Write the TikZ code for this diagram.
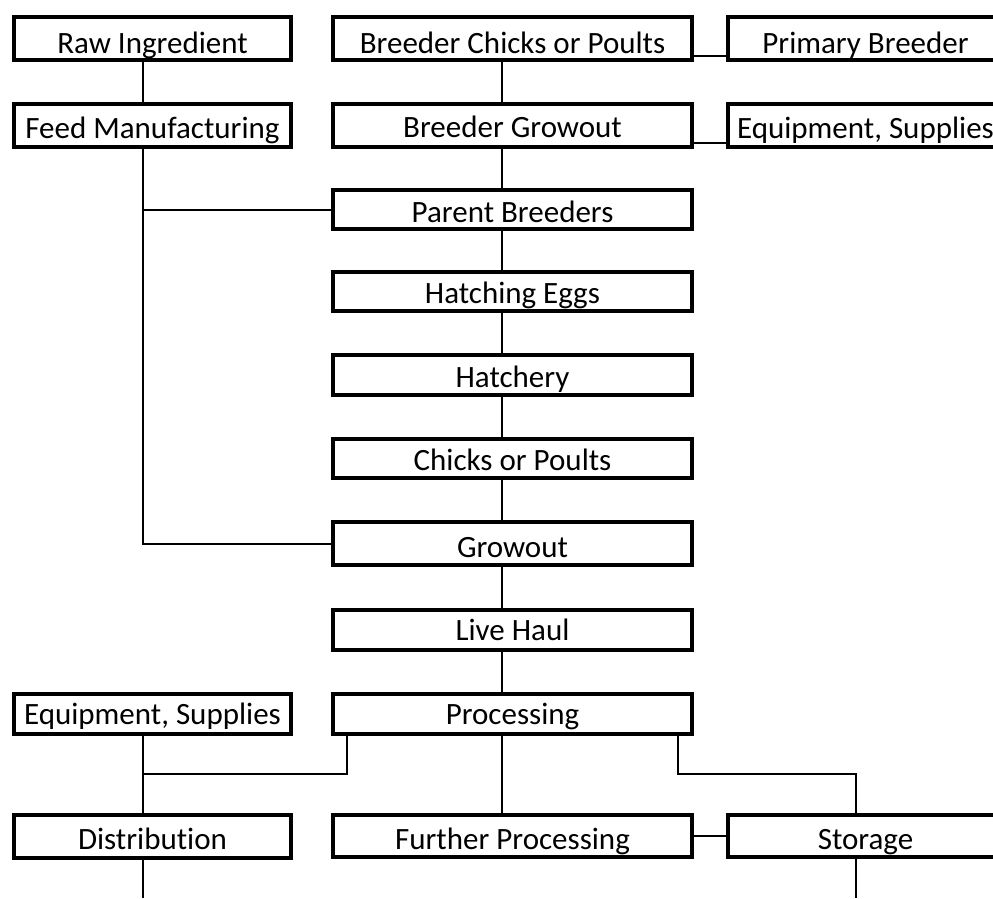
\documentclass[tikz,border=0pt]{standalone}
\usepackage{fontspec}
\setmainfont{Carlito}[Ligatures=NoCommon]
\begin{document}
\begin{tikzpicture}[x=1pt,y=-1pt,
  box/.style={draw, line width=3.5pt, rectangle, inner sep=0pt, outer sep=0pt,
    font=\fontsize{31}{36}\selectfont, text depth=0pt},
  lcol/.style={box, minimum width=277pt},
  mcol/.style={box, minimum width=359pt},
  rcol/.style={box, minimum width=275pt},
  conn/.style={line width=2pt}]
\useasboundingbox (0,0) rectangle (993,898);
\clip (0,0) rectangle (993,898);
% helper coordinates
\coordinate (L) at (143,0);
\coordinate (M) at (502,0);
\coordinate (PL) at (347,0);
\coordinate (PR) at (678,0);
\coordinate (SR) at (856,0);
\coordinate (J) at (0,774);
\coordinate (C1) at (0,56);
\coordinate (C2) at (0,143);
\coordinate (B) at (0,898);
% boxes
\node[lcol, minimum height=43pt, text height=29pt] (raw) at (152.5,38.5) {Raw Ingredient};
\node[mcol, minimum height=43pt, text height=29pt] (bchicks) at (512.5,38.5) {Breeder Chicks or Poults};
\node[rcol, minimum height=43pt, text height=29pt] (primary) at (865.5,38.5) {Primary Breeder};
\node[lcol, minimum height=43pt, text height=25pt] (feed) at (152.5,125.5) {Feed Manufacturing};
\node[mcol, minimum height=43pt, text height=24pt] (bgrow) at (512.5,125.5) {Breeder Growout};
\node[rcol, minimum height=43pt, text height=25pt] (equipT) at (865.5,125.5) {Equipment, Supplies};
\node[mcol, minimum height=39pt, text height=25pt] (parent) at (512.5,209.5) {Parent Breeders};
\node[mcol, minimum height=39pt, text height=23pt] (hatching) at (512.5,291.5) {Hatching Eggs};
\node[mcol, minimum height=40pt, text height=24pt] (hatchery) at (512.5,375) {Hatchery};
\node[mcol, minimum height=39pt, text height=23pt] (chicks) at (512.5,458.5) {Chicks or Poults};
\node[mcol, minimum height=43pt, text height=27pt] (growout) at (512.5,543.5) {Growout};
\node[mcol, minimum height=40pt, text height=20pt] (livehaul) at (512.5,630) {Live Haul};
\node[mcol, minimum height=40pt, text height=20pt] (processing) at (512.5,714) {Processing};
\node[lcol, minimum height=40pt, text height=20pt] (equipL) at (152.5,714) {Equipment, Supplies};
\node[lcol, minimum height=43pt, text height=25pt] (distribution) at (152.5,836.5) {Distribution};
\node[mcol, minimum height=42pt, text height=26pt] (further) at (512.5,836) {Further Processing};
\node[rcol, minimum height=42pt, text height=26pt] (storage) at (865.5,836) {Storage};
% connectors, feed line
\draw[conn] (raw.south -| L) -- (feed.north -| L);
\draw[conn] (feed.south -| L) -- (growout.west -| L) -- (growout.west);
\draw[conn] (parent.west -| L) -- (parent.west);
% main chain
\draw[conn] (bchicks.south -| M) -- (bgrow.north -| M);
\draw[conn] (bgrow.south -| M) -- (parent.north -| M);
\draw[conn] (parent.south -| M) -- (hatching.north -| M);
\draw[conn] (hatching.south -| M) -- (hatchery.north -| M);
\draw[conn] (hatchery.south -| M) -- (chicks.north -| M);
\draw[conn] (chicks.south -| M) -- (growout.north -| M);
\draw[conn] (growout.south -| M) -- (livehaul.north -| M);
\draw[conn] (livehaul.south -| M) -- (processing.north -| M);
\draw[conn] (processing.south -| M) -- (further.north -| M);
% side links
\draw[conn] (bchicks.east |- C1) -- (primary.west |- C1);
\draw[conn] (bgrow.east |- C2) -- (equipT.west |- C2);
\draw[conn] (processing.south -| PL) -- (PL |- J) -- (L |- J);
\draw[conn] (equipL.south -| L) -- (distribution.north -| L);
\draw[conn] (processing.south -| PR) -- (PR |- J) -- (SR |- J) -- (storage.north -| SR);
\draw[conn] (further.east) -- (storage.west);
\draw[conn] (distribution.south -| L) -- (L |- B);
\draw[conn] (storage.south -| SR) -- (SR |- B);
\end{tikzpicture}
\end{document}
